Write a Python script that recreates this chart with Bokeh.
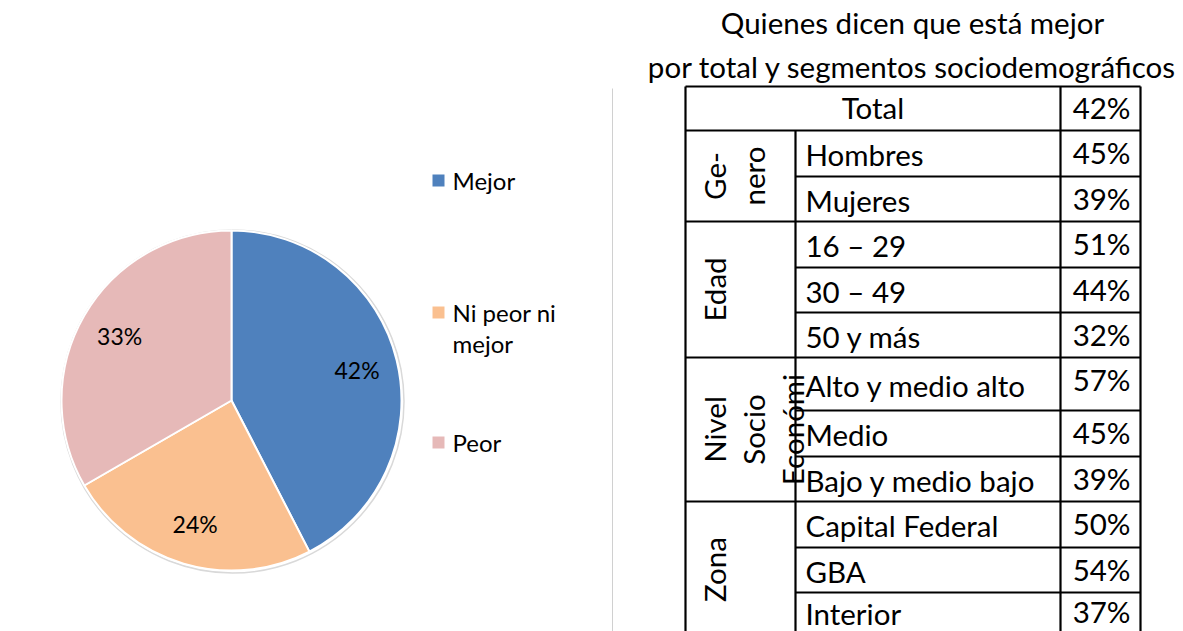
import math
from bokeh.plotting import figure, ColumnDataSource
from bokeh.models import Range1d
from bokeh.core.properties import value
from bokeh.embed import file_html
from bokeh.resources import INLINE

# ---------------- data ----------------
pie_labels = ["Mejor", "Ni peor ni mejor", "Peor"]
pie_values = [42, 24, 33]
pie_colors = ["#4F81BD", "#FAC090", "#E6B9B8"]
legend_lines = [["Mejor"], ["Ni peor ni", "mejor"], ["Peor"]]

title_lines = ["Quienes dicen que está mejor", "por total y segmentos sociodemográficos"]
group_lines = [[], ["Ge-", "nero"], ["Edad"], ["Nivel", "Socio", "Económi"], ["Zona"]]
row_labels = ["Total", "Hombres", "Mujeres", "16 – 29", "30 – 49", "50 y más",
              "Alto y medio alto", "Medio", "Bajo y medio bajo",
              "Capital Federal", "GBA", "Interior"]
row_values = [42, 45, 39, 51, 44, 32, 57, 45, 39, 50, 54, 37]
row_group = [0, 1, 1, 2, 2, 2, 3, 3, 3, 4, 4, 4]

# ---------------- layout (screen px) ----------------
W, H = 1175, 631
PAGE_H = 631


def Y(sy):
    return PAGE_H - sy


p = figure(width=W, height=H, output_backend="svg", toolbar_location=None,
           x_range=Range1d(0, W), y_range=Range1d(PAGE_H - H, PAGE_H),
           min_border=0)
p.axis.visible = False
p.grid.visible = False
p.outline_line_color = None
p.background_fill_color = "white"

FONT = value("Lato")

# ---------------- pie ----------------
cx, cy, r = 231, Y(400), 170
total = sum(pie_values)
starts, ends, lx, ly, ltxt = [], [], [], [], []
acc = 0.0
for v in pie_values:
    a0 = math.pi / 2 - 2 * math.pi * acc / total
    a1 = math.pi / 2 - 2 * math.pi * (acc + v) / total
    starts.append(a0)
    ends.append(a1)
    mid = (a0 + a1) / 2
    lx.append(cx + 0.76 * r * math.cos(mid))
    ly.append(cy + 0.76 * r * math.sin(mid))
    ltxt.append(f"{v}%")
    acc += v

p.circle(x=[cx + 1], y=[cy - 1], radius=r + 1.5, fill_color=None,
         line_color="#d9d9d9", line_width=1.5)
src = ColumnDataSource(dict(x=[cx] * 3, y=[cy] * 3, s=starts, e=ends, c=pie_colors))
p.wedge(x="x", y="y", radius=r, start_angle="s", end_angle="e", direction="clock",
        fill_color="c", line_color="white", line_width=2, source=src)
p.text(x=lx, y=ly, text=ltxt, text_font=FONT, text_font_size="23px",
       text_align="center", text_baseline="middle", text_color="black")

# legend
leg_y = [180, 312, 442]
line_gap = 31
for i, lines in enumerate(legend_lines):
    sy = leg_y[i]
    p.rect(x=[438], y=[Y(sy)], width=12, height=12, fill_color=pie_colors[i], line_color=None)
    for j, t in enumerate(lines):
        p.text(x=[452], y=[Y(sy + j * line_gap)], text=[t], text_font=FONT,
               text_font_size="24px", text_align="left", text_baseline="middle",
               text_color="black")

# separator
p.segment(x0=[612], y0=[Y(88)], x1=[612], y1=[Y(640)], line_color="#d0d0d0", line_width=1)

# ---------------- title ----------------
for j, t in enumerate(title_lines):
    p.text(x=[912], y=[Y(22 + j * 44)], text=[t], text_font=FONT, text_font_size="29.5px",
           text_align="center", text_baseline="middle", text_color="black")

# ---------------- table ----------------
col_x = [685, 795, 1060, 1140]
row_h = [44, 46, 45, 46, 45, 45, 53, 46, 45, 46, 45, 45]
edges = [86]
for h in row_h:
    edges.append(edges[-1] + h)

xs0, ys0, xs1, ys1 = [], [], [], []
for x in (col_x[0], col_x[2], col_x[3]):
    xs0.append(x); ys0.append(Y(edges[0])); xs1.append(x); ys1.append(Y(edges[-1] + 20))
xs0.append(col_x[1]); ys0.append(Y(edges[1])); xs1.append(col_x[1]); ys1.append(Y(edges[-1] + 20))
for i, e in enumerate(edges[:-1]):
    if i == 0 or i == 1 or row_group[i] != row_group[i - 1]:
        x0 = col_x[0]
    else:
        x0 = col_x[1]
    xs0.append(x0); ys0.append(Y(e)); xs1.append(col_x[3]); ys1.append(Y(e))
p.segment(x0=xs0, y0=ys0, x1=xs1, y1=ys1, line_color="black", line_width=2.2)

TS = "29.5px"
for i, (lab, v) in enumerate(zip(row_labels, row_values)):
    top, bot = edges[i], edges[i + 1]
    mid = (top + bot) / 2
    vy = mid - 1 if row_h[i] < 50 else top + 22
    if i == len(row_labels) - 1:
        mid = min(mid, 612)
        vy = min(vy, 611)
    if i == 0:
        p.text(x=[(col_x[0] + col_x[2]) / 2], y=[Y(mid - 1)], text=[lab], text_font=FONT,
               text_font_size=TS, text_align="center", text_baseline="middle",
               text_color="black")
    else:
        p.text(x=[col_x[1] + 10], y=[Y(mid + 1)], text=[lab], text_font=FONT,
               text_font_size=TS, text_align="left", text_baseline="middle",
               text_color="black")
    p.text(x=[col_x[3] - 10], y=[Y(vy)], text=[f"{v}%"], text_font=FONT,
           text_font_size=TS, text_align="right", text_baseline="middle",
           text_color="black")

for g, lines in enumerate(group_lines):
    if not lines:
        continue
    idx = [i for i, rg in enumerate(row_group) if rg == g]
    top, bot = edges[idx[0]], edges[idx[-1] + 1]
    gmid = (top + bot) / 2
    for j, t in enumerate(lines):
        p.text(x=[714 + j * 39], y=[Y(gmid)], text=[t], text_font=FONT,
               text_font_size=TS, text_align="center", text_baseline="middle",
               angle=math.pi / 2, text_color="black")

open("out.html", "w").write(file_html(p, INLINE))
